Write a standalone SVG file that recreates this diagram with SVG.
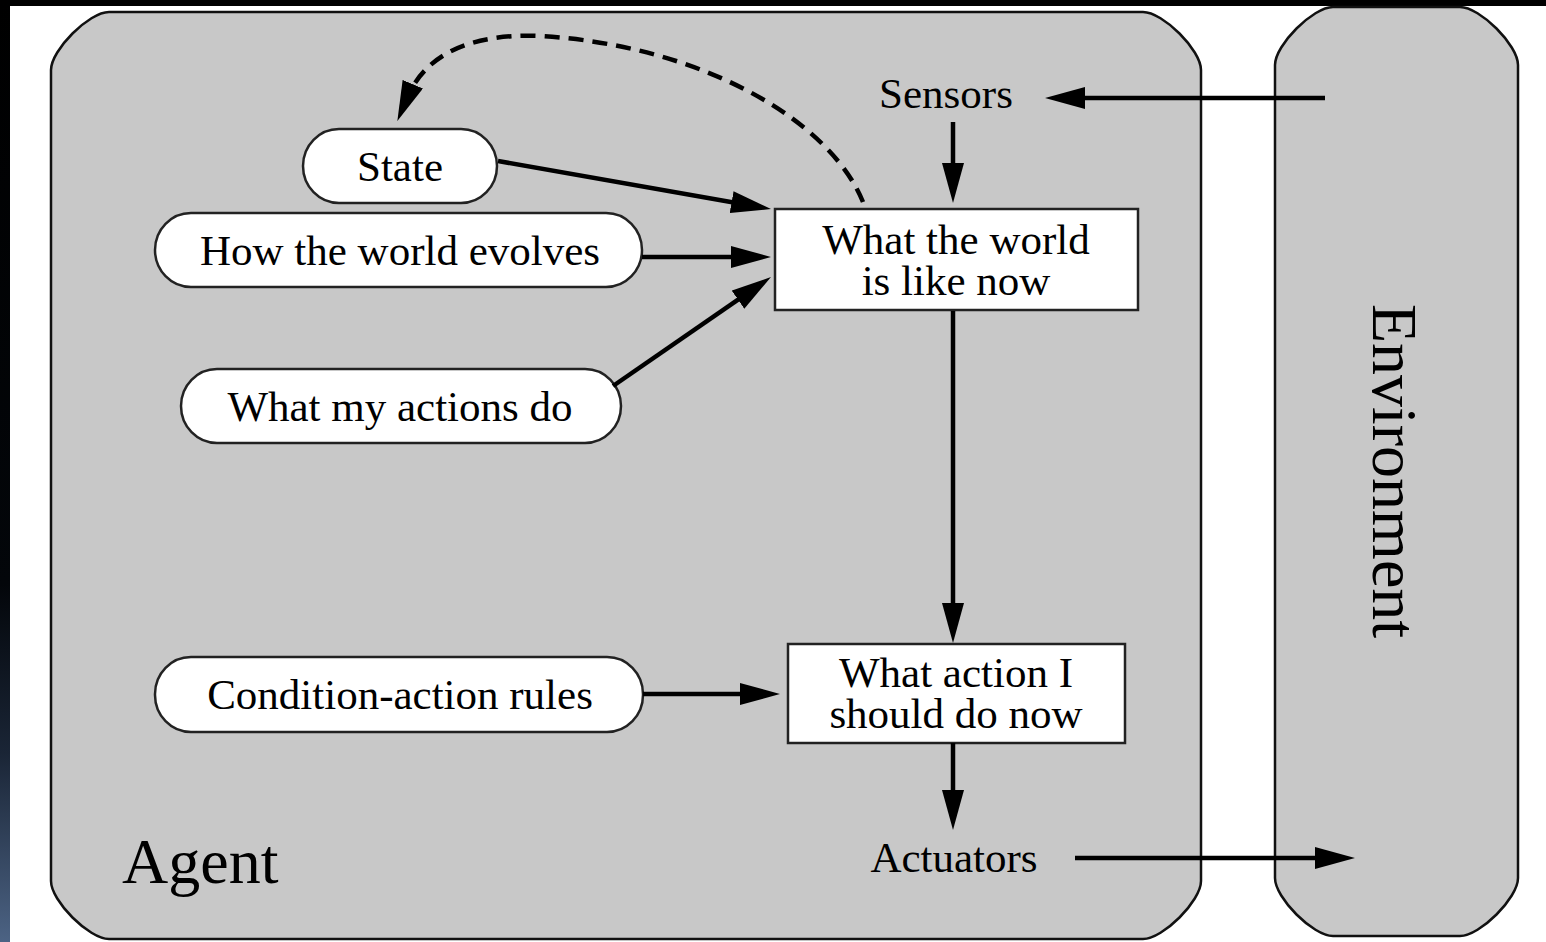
<svg xmlns="http://www.w3.org/2000/svg" width="1546" height="942" viewBox="0 0 1546 942">
  <defs>
    <linearGradient id="edgeGrad" x1="0" y1="0" x2="0" y2="1">
      <stop offset="0" stop-color="#000000"/>
      <stop offset="0.62" stop-color="#03060a"/>
      <stop offset="0.8" stop-color="#1a2536"/>
      <stop offset="1" stop-color="#4c6384"/>
    </linearGradient>
    <marker id="arrow" markerUnits="userSpaceOnUse" markerWidth="40" markerHeight="22" viewBox="0 0 40 22" refX="15" refY="11" orient="auto">
      <path d="M0,0 L40,11 L0,22 z" fill="#000"/>
    </marker>
    <style>
      .frame { fill: #c8c8c8; stroke: #111; stroke-width: 2.5; }
      .pill { fill: #fff; stroke: #222; stroke-width: 2.5; }
      .box { fill: #fff; stroke: #222; stroke-width: 2.5; }
      .lbl { font-family: "Liberation Serif", "Times New Roman", serif; font-size: 43px; fill: #000; text-anchor: middle; }
      .big { font-family: "Liberation Serif", "Times New Roman", serif; font-size: 64px; fill: #000; }
      .link { fill: none; stroke: #000; stroke-width: 4.5; marker-end: url(#arrow); }
      .dash { stroke-dasharray: 15 9; }
    </style>
  </defs>

  <!-- page background and screen edges -->
  <rect x="0" y="0" width="1546" height="942" fill="#fff"/>
  <rect x="0" y="0" width="1546" height="6" fill="#000"/>
  <rect x="0" y="0" width="10" height="942" fill="url(#edgeGrad)"/>

  <!-- agent enclosure -->
  <g id="agent">
    <path class="frame" d="M109,12 L1143,12 C1163,12 1201,50 1201,70 L1201,881 C1201,901 1163,939 1143,939 L109,939 C89,939 51,901 51,881 L51,70 C51,50 89,12 109,12 Z"/>
    <text class="big" x="122" y="883">Agent</text>
  </g>

  <!-- environment enclosure -->
  <g id="environment">
    <path class="frame" d="M1333,7 L1460,7 C1480,7 1518,45 1518,65 L1518,878 C1518,898 1480,936 1460,936 L1333,936 C1313,936 1275,898 1275,878 L1275,65 C1275,45 1313,7 1333,7 Z"/>
    <text class="big" text-anchor="middle" transform="translate(1373,471) rotate(90)">Environment</text>
  </g>

  <g id="sensors">
    <text class="lbl" x="946" y="108">Sensors</text>
  </g>

  <g id="actuators">
    <text class="lbl" x="954" y="872">Actuators</text>
  </g>

  <g id="state">
    <rect class="pill" x="303" y="129" width="194" height="74" rx="36" ry="37"/>
    <text class="lbl" x="400" y="181">State</text>
  </g>

  <g id="world-evolves">
    <rect class="pill" x="155" y="213" width="487" height="74" rx="36" ry="37"/>
    <text class="lbl" x="400" y="265">How the world evolves</text>
  </g>

  <g id="actions-do">
    <rect class="pill" x="181" y="369" width="440" height="74" rx="36" ry="37"/>
    <text class="lbl" x="400" y="421">What my actions do</text>
  </g>

  <g id="rules">
    <rect class="pill" x="155" y="657" width="488" height="75" rx="36" ry="37"/>
    <text class="lbl" x="400" y="709">Condition-action rules</text>
  </g>

  <g id="world-now">
    <rect class="box" x="775" y="209" width="363" height="101"/>
    <text class="lbl" x="956" y="254">What the world</text>
    <text class="lbl" x="956" y="295">is like now</text>
  </g>

  <g id="action-now">
    <rect class="box" x="788" y="644" width="337" height="99"/>
    <text class="lbl" x="956" y="687">What action I</text>
    <text class="lbl" x="956" y="728">should do now</text>
  </g>

  <!-- connectors -->
  <g id="connectors">
    <path class="link" d="M1325,98 L1070,98"/>
    <path class="link" d="M953,122 L953,178"/>
    <path class="link" d="M498,161 L746.4,204.7"/>
    <path class="link" d="M642,257 L746,257"/>
    <path class="link" d="M613,386 L750.4,291.2"/>
    <path class="link" d="M953,311 L953,618"/>
    <path class="link" d="M643,694 L755,694"/>
    <path class="link" d="M953,743 L953,805"/>
    <path class="link" d="M1075,858 L1330,858"/>
    <path class="link dash" d="M863,202 C830,120 700,45 540,36 C470,33 425,55 407,98"/>
  </g>
</svg>
